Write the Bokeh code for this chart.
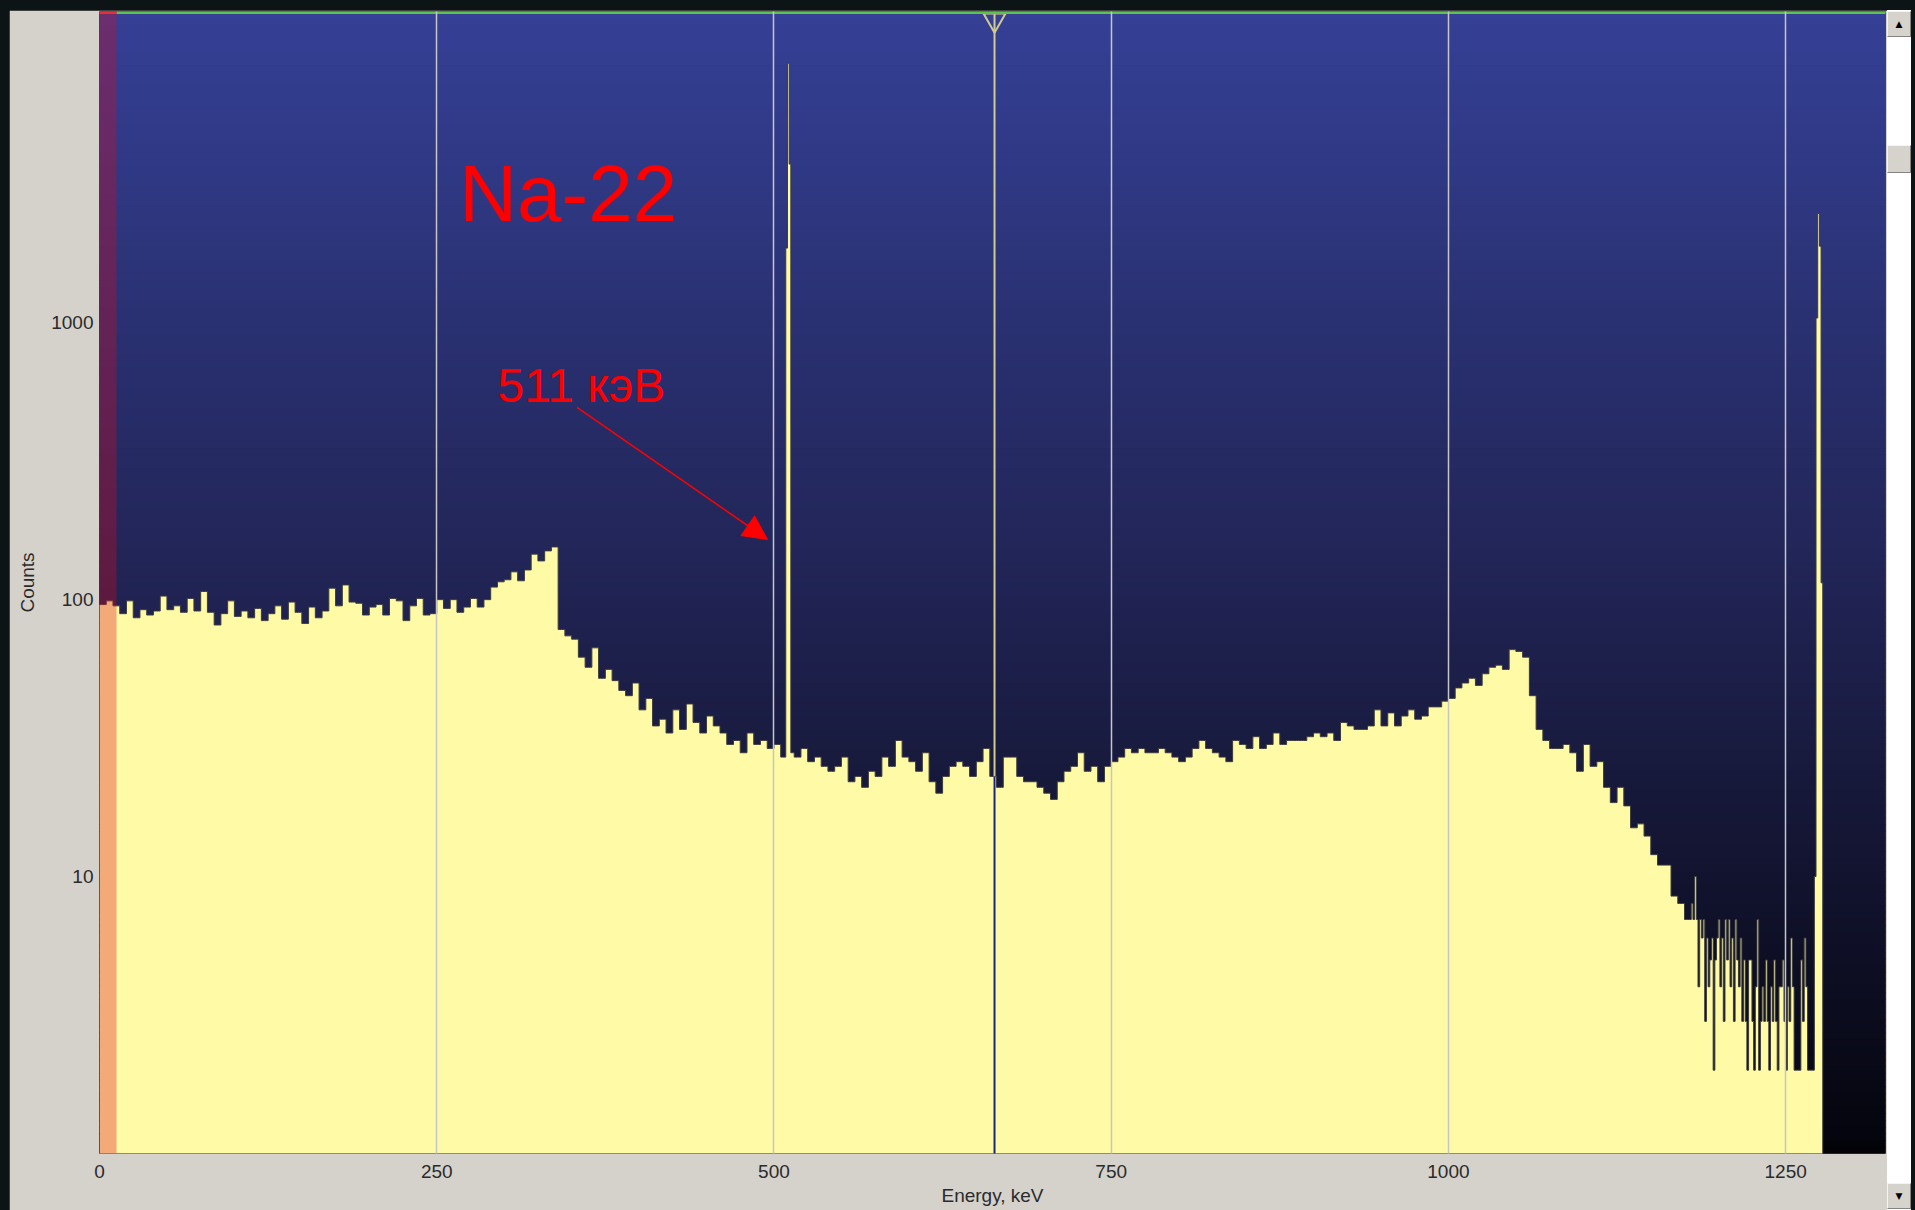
import numpy as np
from bokeh.plotting import figure
from bokeh.layouts import row
from bokeh.models import (Range1d, FixedTicker, BoxAnnotation, Label, Arrow,
                          NormalHead, PrintfTickFormatter, Div)
from bokeh.embed import file_html
from bokeh.resources import INLINE

# ---------------- data ----------------
channel_kev = 1.25          # width of one analyser channel
channels_per_bin = 4        # continuum given as 5 keV bins

# continuum, 5 keV bins from 0 keV to 1180 keV
counts_5kev = [
    96, 99, 95, 89, 99, 86, 92, 88, 91, 103,
    92, 95, 90, 101, 91, 107, 90, 81, 89, 99,
    87, 91, 86, 93, 84, 89, 95, 85, 98, 90,
    82, 94, 86, 91, 110, 95, 113, 98, 97, 88,
    94, 96, 88, 101, 99, 84, 95, 101, 88, 89,
    100, 93, 100, 90, 94, 101, 94, 100, 111, 116,
    118, 126, 117, 128, 146, 138, 150, 155, 78, 74,
    72, 62, 57, 67, 52, 56, 51, 47, 45, 50,
    40, 44, 35, 37, 33, 40, 34, 42, 36, 33,
    38, 35, 33, 30, 31, 28, 33, 30, 31, 29,
    30, 27, 28, 27, 29, 26, 27, 25, 24, 25,
    27, 22, 23, 21, 24, 23, 27, 25, 31, 27,
    26, 24, 28, 22, 20, 23, 25, 26, 25, 23,
    26, 29, 23, 21, 27, 27, 23, 22, 22, 21,
    20, 19, 22, 24, 25, 28, 24, 25, 22, 25,
    26, 27, 29, 28, 29, 28, 28, 29, 28, 27,
    26, 27, 29, 31, 29, 28, 27, 26, 31, 30,
    29, 32, 29, 30, 33, 30, 31, 31, 31, 32,
    33, 32, 33, 31, 36, 35, 34, 34, 35, 40,
    35, 39, 35, 38, 40, 37, 38, 41, 41, 43,
    44, 48, 50, 52, 49, 54, 57, 58, 56, 66,
    65, 62, 45, 34, 31, 29, 29, 30, 28, 24,
    30, 25, 26, 21, 18.5, 21, 18, 15, 15.5, 14,
    12, 11, 11, 8.5, 8, 7,
]

# low-count tail, single channels from 1180 keV
tail_start_kev = 1180.0
tail_counts = [
    8, 7, 10, 7, 4, 7, 6, 7, 3, 6, 4, 5, 6, 2, 5, 6, 7, 4,
    6, 3, 7, 5, 7, 4, 6, 3, 7, 5, 4, 6, 3, 5, 3, 2, 5, 5,
    3, 2, 4, 7, 2, 3, 4, 3, 5, 3, 2, 4, 3, 5, 3, 2, 4, 4,
    5, 3, 2, 4, 3, 6, 4, 2, 2, 2, 2, 5, 3, 6, 4, 2, 2, 2,
]

# photopeaks, single channels (channel centre in keV)
peak511_kev = [509.4, 510.6, 511.9]
peak511_counts = [1860, 8650, 3740]
peak1275_kev = [1270.6, 1271.9, 1273.1, 1274.4, 1275.6, 1276.9]
peak1275_counts = [2, 10, 1040, 2480, 1890, 115]

x_tick_values = [0, 250, 500, 750, 1000, 1250]
x_tick_labels = ["0", "250", "500", "750", "1000", "1250"]
y_tick_values = [10, 100, 1000]
y_tick_labels = ["10", "100", "1000"]

roi_kev = [0.0, 12.6]
cursor_kev = 663.5
x_max_kev = 1324.0
y_min, y_max = 1.0, 13300.0

# ---------------- build channel spectrum ----------------
n_ch = int(round((peak1275_kev[-1] + channel_kev / 2) / channel_kev))
counts = np.zeros(n_ch)
cont = np.repeat(np.array(counts_5kev, dtype=float), channels_per_bin)
counts[:len(cont)] = cont
i0 = int(round(tail_start_kev / channel_kev))
counts[i0:i0 + len(tail_counts)] = tail_counts
for k, c in zip(peak511_kev + peak1275_kev, peak511_counts + peak1275_counts):
    counts[int(k // channel_kev)] = c
edges = np.arange(n_ch + 1) * channel_kev
step_y = np.append(counts, counts[-1])

# ---------------- figure ----------------
FONT = "Liberation Sans"
p = figure(width=1878, height=1200,
           x_range=Range1d(0, x_max_kev), y_range=Range1d(y_min, y_max),
           y_axis_type="log", output_backend="svg", toolbar_location=None,
           min_border_left=90, min_border_right=2, min_border_top=1,
           min_border_bottom=57, border_fill_color="#d5d1cb",
           background_fill_color="#1b1e48", outline_line_color=None,
           margin=(10, 0, 0, 9))

# vertical gradient background (blue -> black)
n_strips = 170
t_edges = np.linspace(0.0, 1.0, n_strips + 1)
lt, lb = np.log10(y_max), np.log10(y_min)
log_edges = lt - t_edges * (lt - lb)
tops = 10 ** log_edges[:-1]
bottoms = 10 ** (log_edges[1:] - 0.003)
tops[0] = y_max * 1.3
bottoms[-1] = y_min * 0.5
t_mid = (t_edges[:-1] + t_edges[1:]) / 2
stop_t = [0.0, 0.515, 0.985, 1.0]
stop_rgb = np.array([(53, 64, 150), (32, 35, 82), (5, 5, 14), (1, 1, 5)], dtype=float)
cols = []
for t in t_mid:
    r = np.interp(t, stop_t, stop_rgb[:, 0])
    g = np.interp(t, stop_t, stop_rgb[:, 1])
    b = np.interp(t, stop_t, stop_rgb[:, 2])
    cols.append("#%02x%02x%02x" % (int(round(r)), int(round(g)), int(round(b))))
p.quad(left=-5, right=x_max_kev + 5, top=tops, bottom=bottoms,
       fill_color=cols, line_color=None, level="underlay")

# spectrum fill + outline
p.varea_step(x=edges, y1=np.full(len(edges), y_min * 0.5), y2=step_y,
             step_mode="after", fill_color="#fffaa5")
p.step(x=np.append(edges, edges[-1]), y=np.append(step_y, y_min * 0.5),
       mode="after", line_color="#3c3c3c", line_width=1)

# cursor
cur_val = counts[int(cursor_kev // channel_kev)]
p.segment(x0=[cursor_kev], x1=[cursor_kev], y0=[y_max], y1=[cur_val],
          line_color="#cfcb8f", line_width=2)
p.segment(x0=[cursor_kev], x1=[cursor_kev], y0=[cur_val], y1=[y_min * 0.5],
          line_color="#1c2580", line_width=2)
p.scatter(x=[cursor_kev], y=[12400], marker="inverted_triangle", size=22,
          fill_color=None, line_color="#cfcb8f", line_width=2)

# top status line (red over ROI, green elsewhere)
p.segment(x0=[roi_kev[1]], x1=[x_max_kev + 5], y0=[y_max], y1=[y_max],
          line_color="#5ec24e", line_width=5)
p.segment(x0=[roi_kev[0] - 5], x1=[roi_kev[1]], y0=[y_max], y1=[y_max],
          line_color="#f04040", line_width=5)

# ROI highlight
p.add_layout(BoxAnnotation(left=roi_kev[0], right=roi_kev[1],
                           fill_color="#dc0a1e", fill_alpha=0.33,
                           line_color=None, level="overlay"))

# axes
p.xaxis.ticker = FixedTicker(ticks=x_tick_values)
p.yaxis.ticker = FixedTicker(ticks=y_tick_values)
p.xaxis.formatter = PrintfTickFormatter(format="%d")
p.yaxis.formatter = PrintfTickFormatter(format="%d")
p.xaxis.major_label_overrides = dict(zip(x_tick_values, x_tick_labels))
p.yaxis.major_label_overrides = dict(zip(y_tick_values, y_tick_labels))
for ax in (p.xaxis[0], p.yaxis[0]):
    ax.axis_line_color = None
    ax.major_tick_line_color = None
    ax.minor_tick_line_color = None
    ax.major_tick_in = 0
    ax.major_tick_out = 0
    ax.major_label_text_font = FONT
    ax.major_label_text_font_size = "19px"
    ax.major_label_text_color = "#2b2b2b"
    ax.axis_label_text_font = FONT
    ax.axis_label_text_font_size = "19px"
    ax.axis_label_text_font_style = "normal"
    ax.axis_label_text_color = "#2b2b2b"
p.xaxis.major_label_standoff = 11
p.yaxis.major_label_standoff = 6
p.xaxis.axis_label = "Energy, keV"
p.xaxis.axis_label_standoff = 4
p.yaxis.axis_label = "Counts"
p.yaxis.axis_label_standoff = 10

p.xgrid.grid_line_color = "#c6c6c6"
p.xgrid.grid_line_width = 1.5
p.xgrid.level = "annotation"
p.ygrid.grid_line_color = None

# annotations
p.add_layout(Label(x=266.7, y=2938, text="Na-22", text_font=FONT,
                   text_font_size="80px", text_color="#ff0000",
                   text_baseline="alphabetic", level="overlay"))
p.add_layout(Label(x=295.0, y=592, text="511 кэВ", text_font=FONT,
                   text_font_size="48px", text_color="#ff0000",
                   text_baseline="alphabetic", level="overlay"))
p.add_layout(Arrow(x_start=354, y_start=495, x_end=495.2, y_end=165,
                   line_color="#ff0000", line_width=1.5, level="overlay",
                   end=NormalHead(size=24, fill_color="#ff0000",
                                  line_color="#ff0000")))

# window scrollbar at the right of the plot
btn = ("position:absolute;left:0;width:24px;height:26px;box-sizing:border-box;"
       "background:#d6d2cc;border:1px solid;border-color:#f6f4f0 #85837f #85837f #f6f4f0;"
       "font:9px 'DejaVu Sans';color:#000;text-align:center;line-height:24px;")
scroll_html = (
    '<div style="position:relative;width:24px;height:1200px;background:#ffffff;">'
    '<div style="' + btn + 'top:1px;">&#9650;</div>'
    '<div style="' + btn + 'top:135px;height:28px;"></div>'
    '<div style="' + btn + 'top:1173px;">&#9660;</div>'
    '</div>'
)
scrollbar = Div(text=scroll_html, width=24, height=1200, margin=(10, 3, 0, 0))

layout = row(p, scrollbar)
html = file_html(layout, INLINE, title="Na-22 spectrum")
html = html.replace("</head>",
                    "<style>html,body{background:#0c1416;}</style></head>", 1)
open("out.html", "w").write(html)
